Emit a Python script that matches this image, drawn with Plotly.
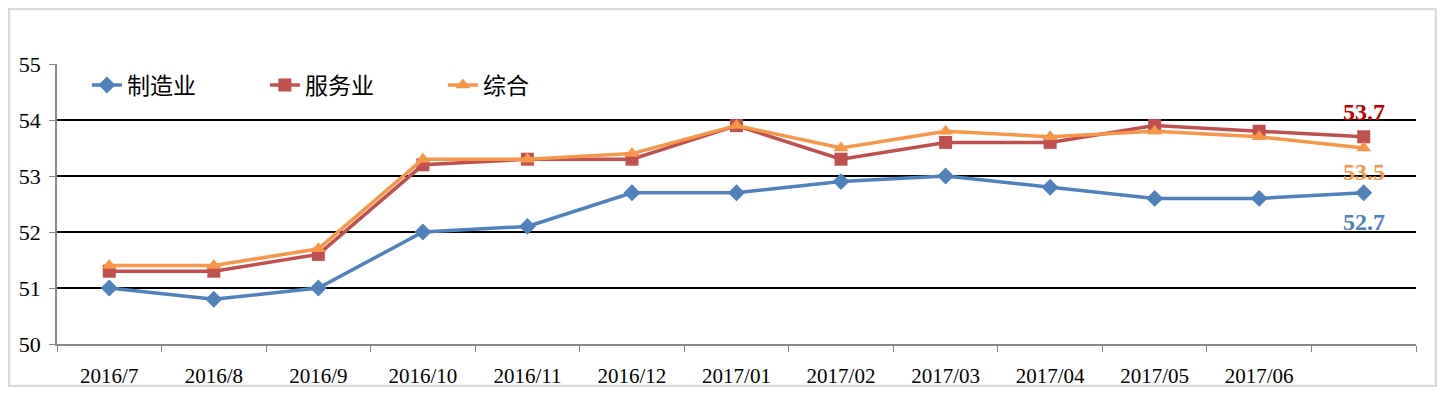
import plotly.graph_objects as go

months = ["2016/7", "2016/8", "2016/9", "2016/10", "2016/11", "2016/12",
          "2017/01", "2017/02", "2017/03", "2017/04", "2017/05", "2017/06", ""]
manufacturing = [51.0, 50.8, 51.0, 52.0, 52.1, 52.7, 52.7, 52.9, 53.0, 52.8, 52.6, 52.6, 52.7]
services = [51.3, 51.3, 51.6, 53.2, 53.3, 53.3, 53.9, 53.3, 53.6, 53.6, 53.9, 53.8, 53.7]
composite = [51.4, 51.4, 51.7, 53.3, 53.3, 53.4, 53.9, 53.5, 53.8, 53.7, 53.8, 53.7, 53.5]
names = ["制造业", "服务业", "综合"]
colors = ["#4F81BD", "#C0504D", "#F79646"]
symbols = ["diamond", "square", "triangle-up"]
label_colors = ["#4F81BD", "#C00000", "#F79646"]

x = list(range(len(months)))
fig = go.Figure()
for vals, nm, c, s in zip([manufacturing, services, composite], names, colors, symbols):
    fig.add_trace(go.Scatter(x=x, y=vals, name=nm, mode="lines+markers",
                             line=dict(color=c, width=3.5),
                             marker=dict(symbol=s, size=13, color=c)))

lab_font = dict(family="Liberation Serif", size=24)
for vals, c, dy in zip([services, composite, manufacturing],
                       [label_colors[1], label_colors[2], label_colors[0]],
                       [25, -24, -29]):
    fig.add_annotation(x=x[-1], y=vals[-1], text=f"<b>{vals[-1]:.1f}</b>", showarrow=False,
                       yshift=dy, font=dict(**lab_font, color=c))

# page has an 8px body margin, so the figure is 16px smaller than the window
W, H = 1429, 379
L, T = 49, 56
pw, ph = 1359, 280
R, B = W - L - pw, H - T - ph

fig.add_shape(type="rect", xref="paper", yref="paper",
              x0=(1 - L) / pw, x1=(W - 1 - L) / pw,
              y0=(H - B - (H - 1)) / ph, y1=(H - B - 1) / ph,
              line=dict(color="#D9D9D9", width=2.5), layer="below")

fig.update_layout(
    width=W, height=H,
    margin=dict(l=L, r=R, t=T, b=B),
    paper_bgcolor="white", plot_bgcolor="white",
    font=dict(family="Liberation Serif", size=20, color="black"),
    legend=dict(orientation="h", x=0.022, y=0.925, xanchor="left", yanchor="middle",
                font=dict(family="Noto Sans CJK SC", size=23, color="black"),
                entrywidth=133, entrywidthmode="pixels", bgcolor="rgba(0,0,0,0)"),
    xaxis=dict(range=[-0.5, len(months) - 0.5], tickvals=x, ticktext=months,
               showgrid=False, zeroline=False, showline=True, linecolor="#888888", linewidth=1.5,
               ticks="", tickfont=dict(family="Liberation Serif", size=21),
               ticklabelstandoff=12, automargin=False,
               minor=dict(ticks="outside", ticklen=6, tickcolor="#888888", tick0=0.5, dtick=1,
                          showgrid=False)),
    yaxis=dict(range=[50, 55], dtick=1, showgrid=True, gridcolor="black", gridwidth=2,
               zeroline=False, showline=True, linecolor="#888888", linewidth=1.5,
               ticks="outside", ticklen=6, tickcolor="#888888", automargin=False,
               tickfont=dict(family="Liberation Serif", size=22), ticklabelstandoff=4),
)

fig.write_html("out.html")
